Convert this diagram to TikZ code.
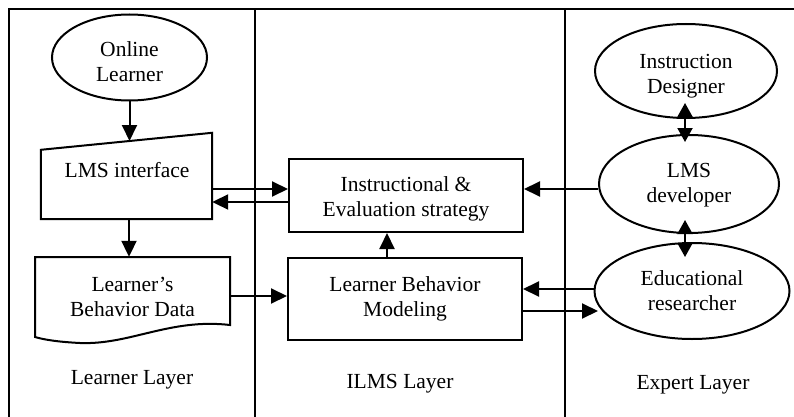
\documentclass[tikz,border=0pt]{standalone}
\usepackage{fontspec}
\setmainfont{Liberation Serif}
\usetikzlibrary{shapes.geometric,arrows.meta,calc}
\begin{document}
\begin{tikzpicture}[x=1pt,y=-1pt,
  every node/.style={font=\fontsize{21.5}{25}\selectfont, align=center, inner sep=0pt},
  ln/.style={line width=2pt},
  arr/.style={ln, -{Triangle[length=16pt,width=15pt]}},
  darr/.style={ln, {Triangle[length=14pt,width=15pt]}-{Triangle[length=14pt,width=15pt]}},
  ell/.style={ellipse, draw, ln, inner sep=0pt},
  box/.style={rectangle, draw, ln}]
\useasboundingbox (0,0) rectangle (794,417);
% frame and layer dividers
\draw[line width=2.6pt] (9,417) -- (9,9) -- (794,9);
\draw[line width=2pt] (255,9) -- (255,417);
\draw[line width=2pt] (565,9) -- (565,417);

% Learner layer
\node[ell, minimum width=155pt, minimum height=86pt] (ol) at (129.5,57.5) {};
\node (olt) at (129.5,62) {Online\\Learner};
\node[minimum width=171pt, minimum height=86pt] (lmsi) at (126.5,176) {};
\draw[ln] (lmsi.south west) -- (lmsi.south east) -- (lmsi.north east) -- ([yshift=-17pt]lmsi.north west) -- cycle;
\node (lmsit) at (127,170) {LMS interface};
\node[minimum width=195pt, minimum height=80pt] (doc) at (132.5,297) {Learner’s\\Behavior Data};
\draw[ln] (35,257) -- (230,257) -- (230,325) .. controls (170,318) and (130,345) .. (80,343) .. controls (60,342) and (45,340) .. (35,337) -- cycle;
\node (ll) at (132,379.5) {Learner Layer};

% ILMS layer
\node[box, minimum width=234pt, minimum height=73pt] (instr) at (406,195.5) {};
\node (instrt) at (406,199) {Instructional \&\\Evaluation strategy};
\node[box, minimum width=234pt, minimum height=82pt] (lbm) at (405,299) {Learner Behavior\\Modeling};
\node (il) at (400,383.5) {ILMS Layer};

% Expert layer
\node[ell, minimum width=182pt, minimum height=94pt] (id) at (686,71) {};
\node (idt) at (686,76) {Instruction\\Designer};
\node[ell, minimum width=180pt, minimum height=98pt] (ld) at (689,184) {};
\node (ldt) at (689,185.5) {LMS\\developer};
\node[ell, minimum width=195pt, minimum height=96pt] (er) at (692,291) {Educational\\researcher};
\node (el) at (693,384.5) {Expert Layer};

% connectors
\draw[arr] (ol.south) -- (ol.south |- 0,141);
\draw[arr] (lmsi.south -| 129,0) -- (doc.north -| 129,0);
\draw[arr] (lmsi.east |- 0,189) -- (instr.west |- 0,189);
\draw[arr] (instr.west |- 0,202) -- (lmsi.east |- 0,202);
\draw[arr] (lbm.north -| 387,0) -- (instr.south -| 387,0);
\draw[arr] (doc.east |- 0,296) -- (lbm.west |- 0,296);
\draw[arr] (ld.west |- 0,189) -- (instr.east |- 0,189);
\draw[arr] (er.west |- 0,289) -- (lbm.east |- 0,289);
\draw[arr] (lbm.east |- 0,311) -- (598,311);
\draw[darr] (685,103) -- (685,142);
\draw[darr] (685,220) -- (685,257);
\end{tikzpicture}
\end{document}
